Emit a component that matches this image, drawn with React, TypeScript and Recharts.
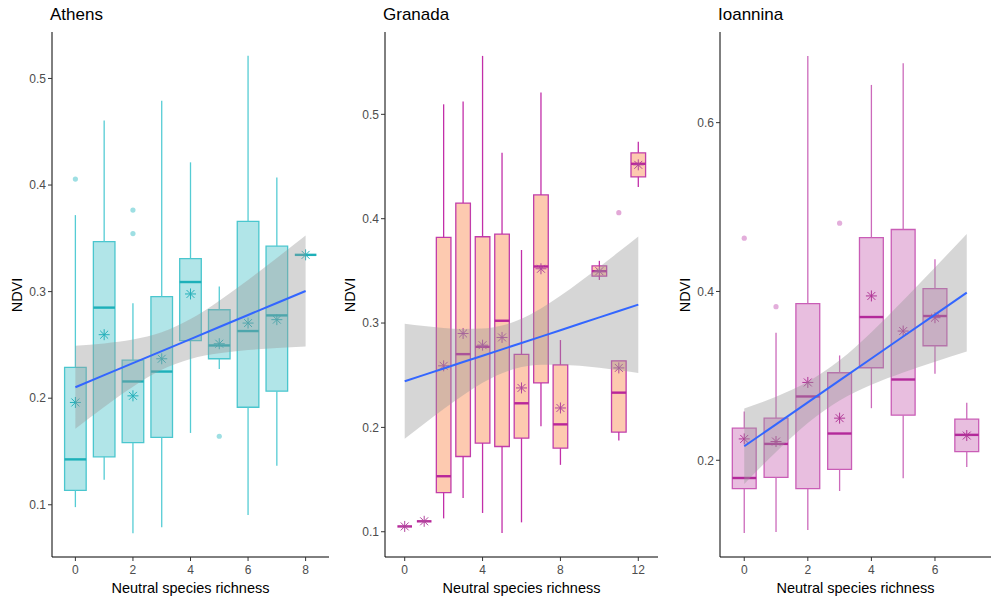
import React from 'react'
import {
  ComposedChart,
  XAxis,
  YAxis,
  Area,
  Line,
  Scatter,
  ReferenceArea,
  ReferenceLine,
} from 'recharts'

// ---- Athens ----
const athensX = [0, 1, 2, 3, 4, 5, 6, 7, 8]
const athensLow = [0.0978, 0.1235, 0.0734, 0.079, 0.1674, 0.2273, 0.0903, 0.1367, 0.3345]
const athensQ1 = [0.1135, 0.145, 0.1583, 0.1633, 0.254, 0.237, 0.1915, 0.2066, 0.3345]
const athensMed = [0.1426, 0.285, 0.2157, 0.225, 0.309, 0.2495, 0.263, 0.2777, 0.3345]
const athensQ3 = [0.229, 0.347, 0.2357, 0.2953, 0.331, 0.283, 0.366, 0.3426, 0.3345]
const athensHigh = [0.3718, 0.4605, 0.289, 0.479, 0.4213, 0.3047, 0.5212, 0.407, 0.3345]
const athensMean = [0.196, 0.2596, 0.2022, 0.237, 0.2978, 0.2511, 0.2705, 0.2737, 0.3345]
const athensOutX = [0, 2, 2, 5]
const athensOutY = [0.4056, 0.3765, 0.3545, 0.1643]
const athensFitX = [0, 1, 2, 3, 4, 5, 6, 7, 8]
const athensFit = [0.2103, 0.2216, 0.2329, 0.2442, 0.2555, 0.2668, 0.2781, 0.2893, 0.3006]
const athensLower = [0.1714, 0.1918, 0.2108, 0.2266, 0.2368, 0.2421, 0.2452, 0.247, 0.2485]
const athensUpper = [0.2492, 0.2514, 0.255, 0.2618, 0.2742, 0.2915, 0.311, 0.3316, 0.3527]

// ---- Granada ----
const granadaX = [0, 1, 2, 3, 4, 5, 6, 7, 8, 10, 11, 12]
const granadaLow = [0.1051, 0.11, 0.1128, 0.1324, 0.118, 0.0987, 0.109, 0.201, 0.1641, 0.3413, 0.1875, 0.4304]
const granadaQ1 = [0.1051, 0.11, 0.1375, 0.1721, 0.185, 0.1817, 0.1897, 0.2426, 0.1801, 0.3449, 0.1955, 0.4401]
const granadaMed = [0.1051, 0.11, 0.1532, 0.2702, 0.2772, 0.3022, 0.2231, 0.3542, 0.2029, 0.3497, 0.2333, 0.4526]
const granadaQ3 = [0.1051, 0.11, 0.382, 0.415, 0.3827, 0.3853, 0.2699, 0.4228, 0.26, 0.3548, 0.2638, 0.4631]
const granadaHigh = [0.1051, 0.11, 0.5096, 0.5122, 0.556, 0.4631, 0.37, 0.5209, 0.2837, 0.3596, 0.2638, 0.4737]
const granadaMean = [0.1051, 0.11, 0.259, 0.29, 0.2788, 0.2862, 0.2378, 0.352, 0.2186, 0.3497, 0.257, 0.4516]
const granadaOutX = [11]
const granadaOutY = [0.4058]
const granadaFitX = [0, 1, 2, 3, 4, 5, 6, 7, 8, 9, 10, 11, 12]
const granadaFit = [0.2442, 0.2503, 0.2564, 0.2626, 0.2687, 0.2748, 0.2809, 0.287, 0.2931, 0.2993, 0.3054, 0.3115, 0.3176]
const granadaLower = [0.1891, 0.2035, 0.2176, 0.2309, 0.2427, 0.252, 0.2578, 0.2601, 0.2601, 0.259, 0.2571, 0.2548, 0.2522]
const granadaUpper = [0.2993, 0.2971, 0.2952, 0.2943, 0.2947, 0.2976, 0.304, 0.3139, 0.3261, 0.3396, 0.3537, 0.3682, 0.383]

// ---- Ioannina ----
const ioanninaX = [0, 1, 2, 3, 4, 5, 6, 7]
const ioanninaLow = [0.1137, 0.1149, 0.1173, 0.1636, 0.2617, 0.1786, 0.3025, 0.1921]
const ioanninaQ1 = [0.1664, 0.1798, 0.1664, 0.1893, 0.3096, 0.2534, 0.3357, 0.2103]
const ioanninaMed = [0.179, 0.2194, 0.2756, 0.2317, 0.3697, 0.2957, 0.3709, 0.2301]
const ioanninaQ3 = [0.238, 0.2499, 0.3856, 0.3037, 0.4639, 0.4734, 0.4034, 0.2487]
const ioanninaHigh = [0.2578, 0.3511, 0.6791, 0.3242, 0.6447, 0.6704, 0.4382, 0.2681]
const ioanninaMean = [0.2253, 0.2222, 0.2922, 0.2499, 0.3947, 0.3531, 0.3689, 0.2293]
const ioanninaOutX = [0, 1, 3]
const ioanninaOutY = [0.4631, 0.382, 0.4809]
const ioanninaFitX = [0, 1, 2, 3, 4, 5, 6, 7]
const ioanninaFit = [0.2166, 0.2426, 0.2686, 0.2946, 0.3206, 0.3466, 0.3726, 0.3986]
const ioanninaLower = [0.1719, 0.2098, 0.2441, 0.2708, 0.2894, 0.3039, 0.3168, 0.329]
const ioanninaUpper = [0.2613, 0.2754, 0.2931, 0.3184, 0.3518, 0.3893, 0.4284, 0.4682]

const HALF = 0.375

const makeStar = (color: string) => (props: any) => {
  const { cx, cy } = props
  const r = 5.5
  const d = r * 0.72
  return (
    <g stroke={color} strokeWidth={1} fill="none">
      <line x1={cx - r} y1={cy} x2={cx + r} y2={cy} />
      <line x1={cx} y1={cy - r} x2={cx} y2={cy + r} />
      <line x1={cx - d} y1={cy - d} x2={cx + d} y2={cy + d} />
      <line x1={cx - d} y1={cy + d} x2={cx + d} y2={cy - d} />
    </g>
  )
}

const makeDot = (color: string) => (props: any) => (
  <circle cx={props.cx} cy={props.cy} r={2.6} fill={color} />
)

const Panel = (p: any) => {
  const fitData = p.fitX.map((x: number, i: number) => ({
    x,
    fit: p.fit[i],
    band: [p.lower[i], p.upper[i]],
  }))
  const means = p.xs.map((x: number, i: number) => ({ x, y: p.mean[i] }))
  const outs = p.outX.map((x: number, i: number) => ({ x, y: p.outY[i] }))
  const c = p.colors
  const plotLeft = p.marginLeft + 30

  return (
    <div style={{ position: 'absolute', left: p.left, top: 0 }}>
      <ComposedChart
        width={p.width}
        height={601}
        data={fitData}
        margin={{ top: 32, right: p.marginRight, bottom: 0, left: p.marginLeft }}
      >
        {p.xs.map((x: number, i: number) => (
          <ReferenceArea
            key={'box' + i}
            x1={x - HALF}
            x2={x + HALF}
            y1={p.q1[i]}
            y2={p.q3[i]}
            fill={c.fill}
            fillOpacity={1}
            stroke={c.box}
            strokeWidth={1.3}
            zIndex={10}
          />
        ))}
        {p.xs.map((x: number, i: number) => (
          <ReferenceLine
            key={'wu' + i}
            segment={[{ x, y: p.q3[i] }, { x, y: p.high[i] }]}
            stroke={c.whisker}
            strokeWidth={1.3}
            zIndex={20}
          />
        ))}
        {p.xs.map((x: number, i: number) => (
          <ReferenceLine
            key={'wl' + i}
            segment={[{ x, y: p.low[i] }, { x, y: p.q1[i] }]}
            stroke={c.whisker}
            strokeWidth={1.3}
            zIndex={20}
          />
        ))}
        {p.xs.map((x: number, i: number) => (
          <ReferenceLine
            key={'md' + i}
            segment={[{ x: x - HALF, y: p.med[i] }, { x: x + HALF, y: p.med[i] }]}
            stroke={c.median}
            strokeWidth={2.4}
            zIndex={25}
          />
        ))}
        <Scatter
          data={means}
          dataKey="y"
          shape={makeStar(c.star)}
          isAnimationActive={false}
          zIndex={30}
        />
        <Scatter
          data={outs}
          dataKey="y"
          shape={makeDot(c.outlier)}
          isAnimationActive={false}
          zIndex={30}
        />
        <Area
          dataKey="band"
          type="monotone"
          stroke="none"
          fill="#999999"
          fillOpacity={0.4}
          isAnimationActive={false}
          zIndex={100}
        />
        <Line
          dataKey="fit"
          type="linear"
          stroke="#3366FF"
          strokeWidth={2}
          dot={false}
          activeDot={false}
          isAnimationActive={false}
          zIndex={200}
        />
        <XAxis
          dataKey="x"
          type="number"
          domain={p.xDomain}
          ticks={p.xTicks}
          allowDataOverflow
          height={44}
          tickSize={4}
          tickMargin={4}
          tick={{ fill: '#4D4D4D', fontSize: 12 }}
          tickLine={{ stroke: '#333333' }}
          axisLine={{ stroke: '#000000' }}
          label={{
            value: 'Neutral species richness',
            position: 'insideBottom',
            offset: 8,
            fill: '#000000',
            fontSize: 14.5,
          }}
        />
        <YAxis
          type="number"
          domain={p.yDomain}
          ticks={p.yTicks}
          allowDataOverflow
          width={30}
          tickSize={4}
          tick={{ fill: '#4D4D4D', fontSize: 12 }}
          tickLine={{ stroke: '#333333' }}
          axisLine={{ stroke: '#000000' }}
        />
      </ComposedChart>
      <div
        style={{
          position: 'absolute',
          left: plotLeft - 2,
          top: 5,
          fontSize: 17,
          color: '#000',
          whiteSpace: 'nowrap',
        }}
      >
        {p.title}
      </div>
      <div
        style={{
          position: 'absolute',
          left: plotLeft - 35,
          top: 295,
          transform: 'translate(-50%, -50%) rotate(-90deg)',
          fontSize: 14.5,
          color: '#000',
          whiteSpace: 'nowrap',
        }}
      >
        NDVI
      </div>
    </div>
  )
}

const athensColors = {
  fill: '#B1E5E8',
  box: '#4AC6CE',
  whisker: '#55CCD4',
  median: '#1DB0B9',
  star: '#25B0BA',
  outlier: '#9EDFE3',
}
const granadaColors = {
  fill: '#FDCAB0',
  box: '#C13DAA',
  whisker: '#C22FA9',
  median: '#B8269A',
  star: '#B0449C',
  outlier: '#E3A8D7',
}
const ioanninaColors = {
  fill: '#E8BEDF',
  box: '#C95DB6',
  whisker: '#CC6ABB',
  median: '#B3299A',
  star: '#B03596',
  outlier: '#E3AEDB',
}

export default function App() {
  return (
    <div
      style={{
        position: 'absolute',
        left: 0,
        top: 0,
        width: 992,
        height: 601,
        background: '#fff',
        fontFamily: '"Liberation Sans", Arial, sans-serif',
      }}
    >
      <Panel
        left={0}
        width={330}
        marginLeft={22}
        marginRight={1}
        title="Athens"
        xs={athensX}
        low={athensLow}
        q1={athensQ1}
        med={athensMed}
        q3={athensQ3}
        high={athensHigh}
        mean={athensMean}
        outX={athensOutX}
        outY={athensOutY}
        fitX={athensFitX}
        fit={athensFit}
        lower={athensLower}
        upper={athensUpper}
        xDomain={[-0.8125, 8.8125]}
        yDomain={[0.051, 0.5436]}
        xTicks={[0, 2, 4, 6, 8]}
        yTicks={[0.1, 0.2, 0.3, 0.4, 0.5]}
        colors={athensColors}
      />
      <Panel
        left={330}
        width={330}
        marginLeft={25}
        marginRight={2}
        title="Granada"
        xs={granadaX}
        low={granadaLow}
        q1={granadaQ1}
        med={granadaMed}
        q3={granadaQ3}
        high={granadaHigh}
        mean={granadaMean}
        outX={granadaOutX}
        outY={granadaOutY}
        fitX={granadaFitX}
        fit={granadaFit}
        lower={granadaLower}
        upper={granadaUpper}
        xDomain={[-1.0125, 13.0125]}
        yDomain={[0.0758, 0.5789]}
        xTicks={[0, 4, 8, 12]}
        yTicks={[0.1, 0.2, 0.3, 0.4, 0.5]}
        colors={granadaColors}
      />
      <Panel
        left={660}
        width={332}
        marginLeft={30}
        marginRight={1}
        title="Ioannina"
        xs={ioanninaX}
        low={ioanninaLow}
        q1={ioanninaQ1}
        med={ioanninaMed}
        q3={ioanninaQ3}
        high={ioanninaHigh}
        mean={ioanninaMean}
        outX={ioanninaOutX}
        outY={ioanninaOutY}
        fitX={ioanninaFitX}
        fit={ioanninaFit}
        lower={ioanninaLower}
        upper={ioanninaUpper}
        xDomain={[-0.7625, 7.7625]}
        yDomain={[0.0854, 0.7074]}
        xTicks={[0, 2, 4, 6]}
        yTicks={[0.2, 0.4, 0.6]}
        colors={ioanninaColors}
      />
    </div>
  )
}
